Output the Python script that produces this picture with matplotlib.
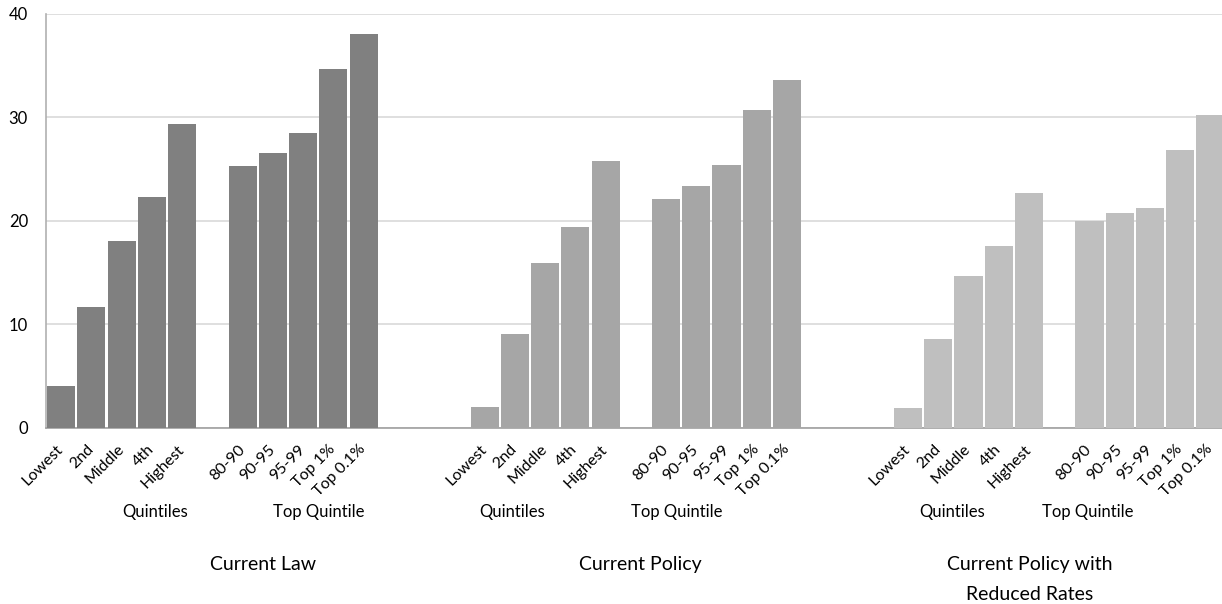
import numpy as np
import matplotlib.pyplot as plt
import matplotlib.transforms as mtransforms

plt.rcParams['font.family'] = ['Lato', 'DejaVu Sans']

# Categories within each scenario
categories = ['Lowest', '2nd', 'Middle', '4th', 'Highest',
              '80-90', '90-95', '95-99', 'Top 1%', 'Top 0.1%']

# Values per scenario
current_law = [4.0, 11.7, 18.0, 22.3, 29.3, 25.3, 26.5, 28.5, 34.7, 38.0]
current_policy = [2.0, 9.1, 15.9, 19.4, 25.8, 22.1, 23.4, 25.4, 30.7, 33.6]
reduced_rates = [1.9, 8.6, 14.7, 17.6, 22.7, 20.0, 20.7, 21.2, 26.8, 30.2]

scenarios = ['Current Law', 'Current Policy', 'Current Policy with\nReduced Rates']
series = [current_law, current_policy, reduced_rates]
colors = ['#808080', '#a6a6a6', '#bfbfbf']

# slot layout: 5 quintiles, one blank, 5 top-quintile splits, 3 blanks between scenarios
local = np.array([0, 1, 2, 3, 4, 6, 7, 8, 9, 10])
offsets = [0, 14, 28]

fig = plt.figure(figsize=(12.22, 6.04), dpi=100)
ax = fig.add_axes([46 / 1222, 176.3 / 604, 1176 / 1222, 414 / 604])

xs_all, labels_all = [], []
for vals, off, col in zip(series, offsets, colors):
    xs = local + off
    ax.bar(xs, vals, width=0.93, color=col, linewidth=0, zorder=3)
    xs_all.extend(xs)
    labels_all.extend(categories)

ax.set_xlim(-0.5, 38.38)
ax.set_ylim(0, 40)
ax.set_yticks([0, 10, 20, 30, 40])
ax.grid(axis='y', color='#d9d9d9', linewidth=1.2, zorder=0)
ax.set_axisbelow(True)

ax.set_xticks(xs_all)
ax.set_xticklabels(labels_all, rotation=45, ha='right', va='center',
                   rotation_mode='anchor', fontsize=11.5)
ax.tick_params(axis='x', length=0, pad=14)
ax.tick_params(axis='y', length=0, pad=13, labelsize=12)

for side in ['top', 'right']:
    ax.spines[side].set_visible(False)
ax.spines['left'].set_color('#b0b0b0')
ax.spines['bottom'].set_color('#a0a0a0')
ax.spines['left'].set_linewidth(1.2)
ax.spines['bottom'].set_linewidth(1.2)

# group captions under the tick labels
trans = mtransforms.blended_transform_factory(ax.transData, fig.transFigure)
quintile_x = [3.1, 14.9, 29.45]
topq_x = [8.53, 20.36, 33.95]
for qx, tx in zip(quintile_x, topq_x):
    ax.text(qx, 87 / 604, 'Quintiles', transform=trans, ha='center',
            va='baseline', fontsize=12)
    ax.text(tx, 87 / 604, 'Top Quintile', transform=trans, ha='center',
            va='baseline', fontsize=12)

scenario_x = [6.69, 19.14, 32.03]
for sx, name in zip(scenario_x, scenarios):
    lines = name.split('\n')
    for i, line in enumerate(lines):
        ax.text(sx, (34 - 30 * i) / 604, line, transform=trans, ha='center',
                va='baseline', fontsize=14)

fig.savefig('out.png', dpi=100)
